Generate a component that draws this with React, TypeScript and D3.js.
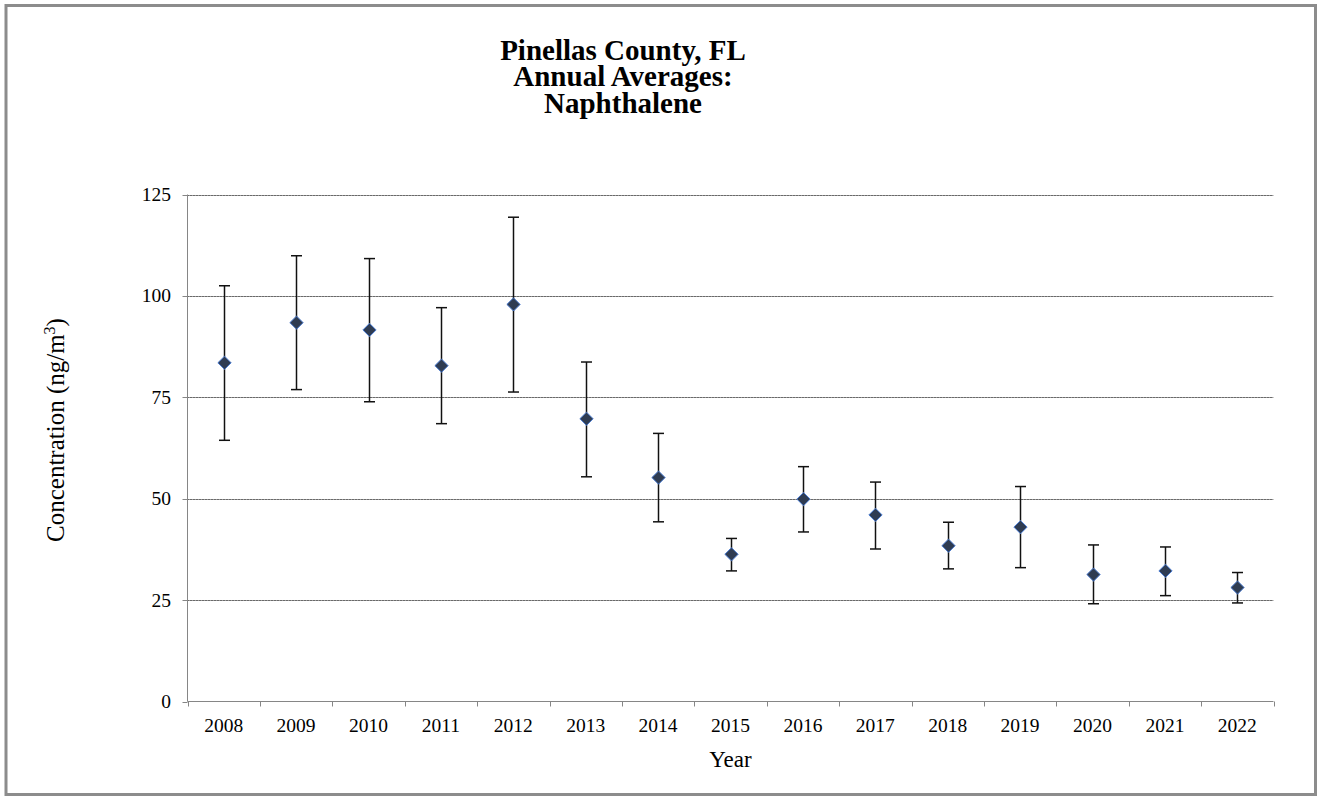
import React from "react";
import * as d3 from "d3";

const years = ["2008","2009","2010","2011","2012","2013","2014","2015","2016","2017","2018","2019","2020","2021","2022"];
const means = [83.5, 93.4, 91.6, 82.8, 97.9, 69.7, 55.2, 36.3, 49.9, 46.0, 38.4, 43.0, 31.3, 32.2, 28.1];
const uppers = [102.5, 109.9, 109.2, 97.1, 119.4, 83.7, 66.1, 40.2, 57.9, 54.1, 44.2, 53.0, 38.6, 38.1, 31.8];
const lowers = [64.4, 76.9, 73.9, 68.5, 76.3, 55.4, 44.3, 32.2, 41.8, 37.6, 32.7, 33.0, 24.1, 26.1, 24.3];
const yTicks = [0, 25, 50, 75, 100, 125];
const titleLines = ["Pinellas County, FL", "Annual Averages:", "Naphthalene"];

const W = 1320, H = 798;
const left = 187.5, right = 1273.5, top = 194.5, bottom = 701.5;
const font = "'Liberation Serif', 'Times New Roman', serif";

export default function App() {
  const x = d3.scaleBand<string>().domain(years).range([left, right]).padding(0);
  const y = d3.scaleLinear().domain([0, 125]).range([bottom, top]);
  const bw = x.bandwidth();
  const cx = (yr: string) => (x(yr) as number) + bw / 2;
  const boundaries = years.map((yr) => x(yr) as number).concat([right]);
  const diamond = d3.symbol().type(d3.symbolDiamond2).size(112)();

  return (
    <svg width={W} height={H} style={{ position: "absolute", left: 0, top: 0, background: "#fff" }}>
      <rect x={6} y={5.5} width={1309.5} height={789} fill="#fff" stroke="#8c8c8c" strokeWidth={3} />
      {/* title */}
      <text fontFamily={font} fontWeight="bold" fontSize={29} textAnchor="middle" fill="#000">
        {titleLines.map((t, i) => (
          <tspan key={i} x={623} y={59.5 + i * 26.8}>{t}</tspan>
        ))}
      </text>
      {/* gridlines */}
      {yTicks.filter((t) => t > 0).map((t) => (
        <g key={t}>
          <line x1={left} x2={right} y1={Math.round(y(t)) + 0.5} y2={Math.round(y(t)) + 0.5} stroke="#9a9a9a" strokeWidth={1} />
          <line x1={left} x2={right} y1={Math.round(y(t)) + 0.5} y2={Math.round(y(t)) + 0.5} stroke="#3a3a3a" strokeWidth={1} strokeDasharray="1 2" />
        </g>
      ))}
      {/* axes */}
      <line x1={left} x2={left} y1={top} y2={bottom} stroke="#868686" strokeWidth={1} />
      <line x1={left} x2={right} y1={bottom} y2={bottom} stroke="#868686" strokeWidth={1} />
      {yTicks.map((t) => (
        <g key={t}>
          <line x1={left - 5} x2={left} y1={Math.round(y(t)) + 0.5} y2={Math.round(y(t)) + 0.5} stroke="#868686" />
          <text x={171} y={y(t) + 6.5} textAnchor="end" fontFamily={font} fontSize={19.5} fill="#000">{t}</text>
        </g>
      ))}
      {boundaries.map((b, i) => (
        <line key={i} x1={Math.round(b) + 0.5} x2={Math.round(b) + 0.5} y1={bottom} y2={bottom + 5} stroke="#868686" />
      ))}
      {years.map((yr) => (
        <text key={yr} x={cx(yr)} y={732} textAnchor="middle" fontFamily={font} fontSize={19.5} fill="#000">{yr}</text>
      ))}
      <text x={(left + right) / 2} y={767} textAnchor="middle" fontFamily={font} fontSize={23} fill="#000">Year</text>
      <text transform={`translate(64,430) rotate(-90)`} textAnchor="middle" fontFamily={font} fontSize={25} fill="#000">
        Concentration (ng/m<tspan dy={-9} fontSize={16}>3</tspan><tspan dy={9}>)</tspan>
      </text>
      {/* error bars */}
      {years.map((yr, i) => {
        const c = Math.round(cx(yr)) + 0.5;
        return (
          <g key={yr} stroke="#111" strokeWidth={1.5}>
            <line x1={c} x2={c} y1={y(uppers[i])} y2={y(lowers[i])} />
            <line x1={c - 5.5} x2={c + 5.5} y1={y(uppers[i])} y2={y(uppers[i])} />
            <line x1={c - 5.5} x2={c + 5.5} y1={y(lowers[i])} y2={y(lowers[i])} />
          </g>
        );
      })}
      {/* markers */}
      {years.map((yr, i) => (
        <path key={yr} d={diamond as string} transform={`translate(${Math.round(cx(yr)) + 0.5},${y(means[i])})`} fill="#2f3c52" stroke="#4a7bd0" strokeWidth={1} />
      ))}
    </svg>
  );
}
